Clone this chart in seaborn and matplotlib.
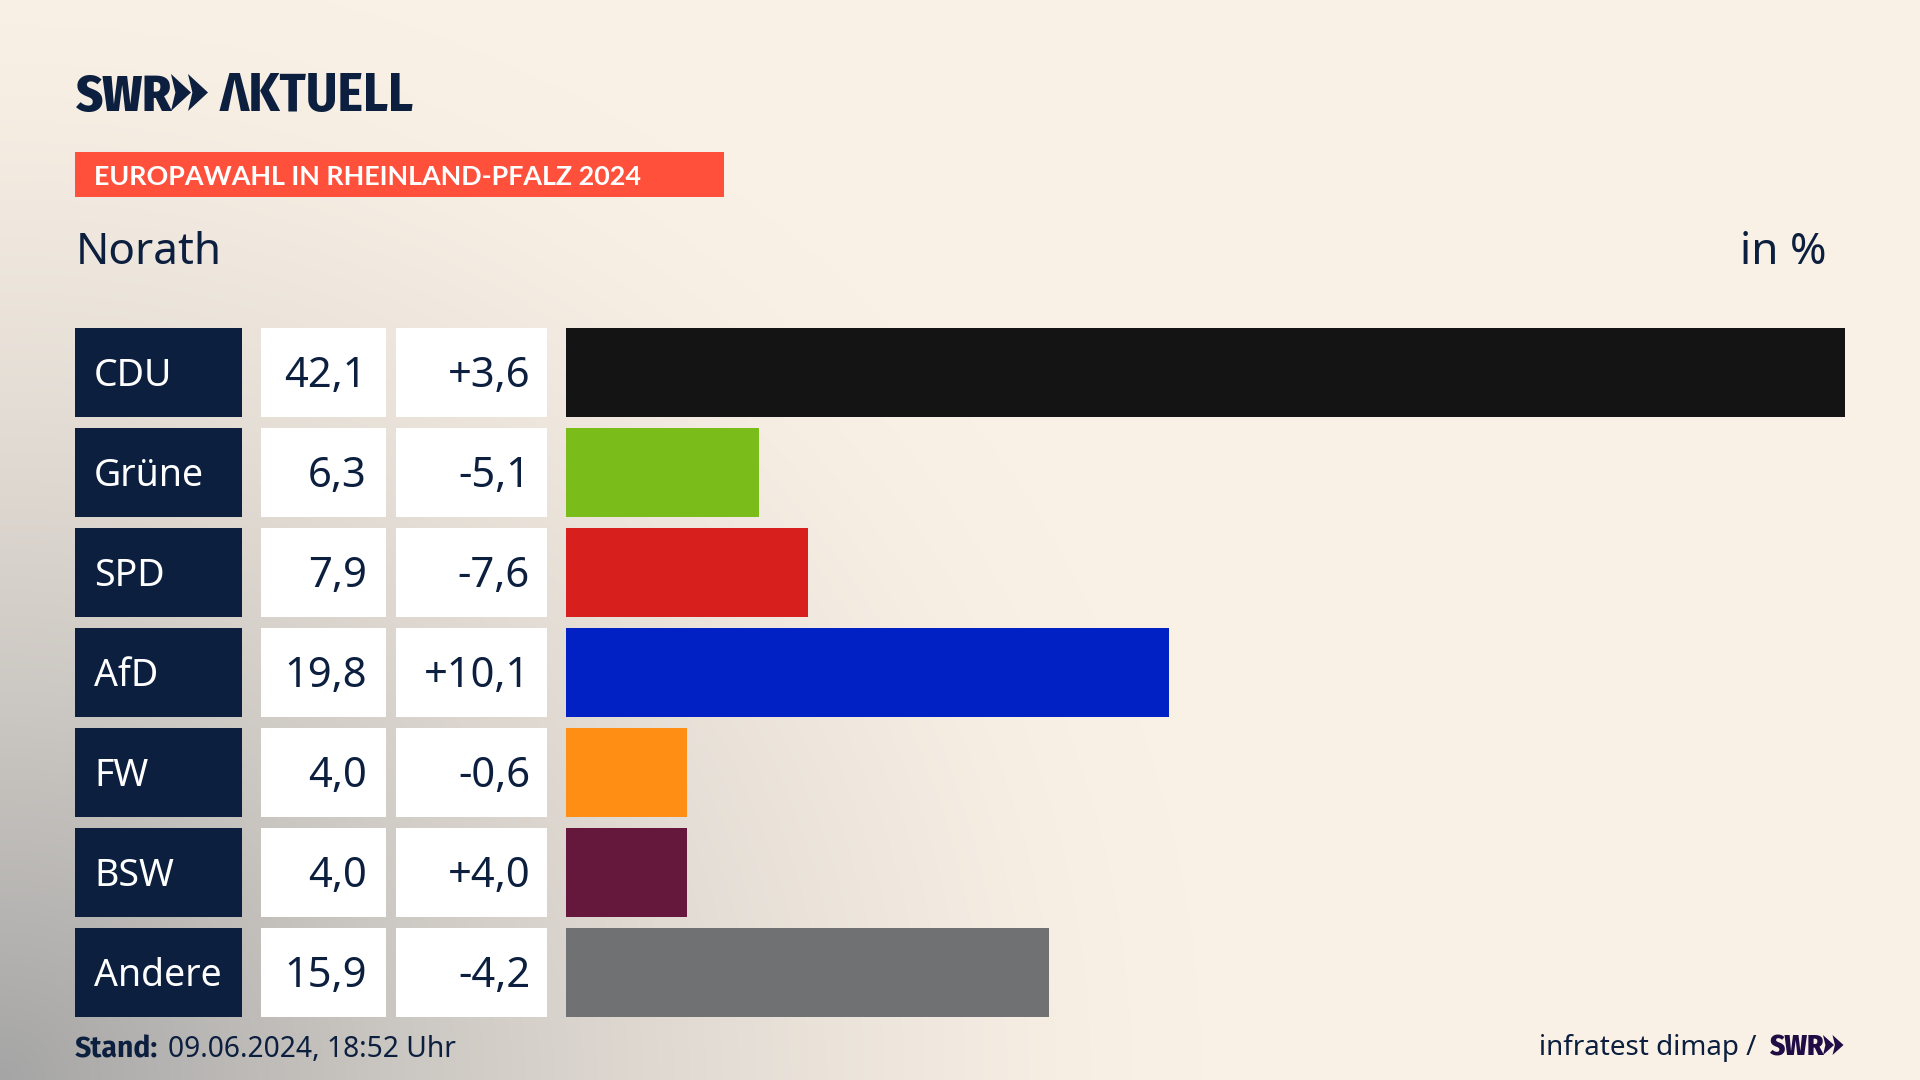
import logging
import numpy as np
import pandas as pd
import seaborn as sns
import matplotlib
matplotlib.use("Agg")
import matplotlib.pyplot as plt
from matplotlib.patches import Rectangle, Polygon

logging.getLogger("matplotlib.font_manager").setLevel(logging.ERROR)

parties = ["CDU", "Grüne", "SPD", "AfD", "FW", "BSW", "Andere"]
share_labels = ["42,1", "6,3", "7,9", "19,8", "4,0", "4,0", "15,9"]
change_labels = ["+3,6", "-5,1", "-7,6", "+10,1", "-0,6", "+4,0", "-4,2"]
bar_values = [42.1, 6.36, 7.97, 19.85, 3.98, 3.98, 15.9]
colors = ["#141414", "#7ABD1B", "#D7201D", "#0221C4", "#FF8E15", "#66183C", "#707172"]

NAVY = "#0C1F3F"
BODY = ["Noto Sans", "DejaVu Sans"]
COND = ["Fira Sans Condensed", "Asap Condensed", "Lato", "DejaVu Sans"]
BOLD = ["Fira Sans", "Lato", "DejaVu Sans"]
W, H = 1920, 1080
fig = plt.figure(figsize=(19.2, 10.8), dpi=100)

# background gradient
bg = fig.add_axes([0, 0, 1, 1], zorder=0)
yy, xx = np.mgrid[0:H:270j, 0:W:480j]
d = np.sqrt((xx / 1200) ** 2 + ((H - yy) / 1120) ** 2)
t = np.clip(1 - d, 0, 1) ** 1.45
base = np.array([250, 241, 230]) / 255
dark = np.array([165, 165, 165]) / 255
img = base[None, None, :] * (1 - t[..., None]) + dark[None, None, :] * t[..., None]
bg.imshow(img, extent=[0, W, H, 0], aspect="auto", interpolation="bilinear")
bg.set_xlim(0, W); bg.set_ylim(H, 0); bg.axis("off")

# overlay in pixel coordinates
ov = fig.add_axes([0, 0, 1, 1], zorder=2)
ov.set_xlim(0, W); ov.set_ylim(H, 0); ov.axis("off"); ov.patch.set_alpha(0)

def txt(x, y, s, size, color=NAVY, weight="normal", ha="left", family=BODY):
    return ov.text(x, y, s, fontsize=size, color=color, fontweight=weight, ha=ha, va="baseline", family=family)

# bars
TOP, PITCH, BH = 328, 100, 89
LEFT, RIGHT = 566, 1845
ax = fig.add_axes([LEFT / W, 1 - (TOP + 7 * PITCH - (PITCH - BH) / 2) / H,
                   (RIGHT - LEFT) / W, 7 * PITCH / H], zorder=1)
df = pd.DataFrame({"party": parties, "share": bar_values})
sns.barplot(data=df, x="share", y="party", hue="party", palette=colors, legend=False,
            width=BH / PITCH, saturation=1, ax=ax, orient="h", edgecolor="none", linewidth=0)
ax.set_xlim(0, max(bar_values))
ax.set_ylim(6.5, -0.5)
ax.axis("off")
ax.patch.set_alpha(0)

# table cells
for i, (p, s, c) in enumerate(zip(parties, share_labels, change_labels)):
    y0 = TOP + i * PITCH
    ov.add_patch(Rectangle((75, y0), 167, BH, fc=NAVY, ec="none"))
    ov.add_patch(Rectangle((261, y0), 125, BH, fc="white", ec="none"))
    ov.add_patch(Rectangle((396, y0), 151, BH, fc="white", ec="none"))
    txt(94, y0 + 58, p, 27, color="white")
    txt(367, y0 + 59, s, 30, ha="right")
    txt(530, y0 + 59, c, 30, ha="right")

# header
def chevrons(x0, y0, h, w, gap, color):
    for k in range(2):
        x = x0 + k * gap
        ov.add_patch(Polygon([(x, y0), (x + w, y0 + h / 2), (x, y0 + h), (x + w * 0.22, y0 + h / 2)],
                             closed=True, fc=color, ec="none"))

txt(76, 111, "SWR", 37, weight="heavy", family=COND)
chevrons(171, 74, 37, 20, 17, NAVY)
txt(220, 111, "ΛKTUELL", 38.8, weight="bold", family=COND)

ov.add_patch(Rectangle((75, 152), 649, 45, fc="#FF503C", ec="none"))
txt(94, 185, "EUROPAWAHL IN RHEINLAND-PFALZ 2024", 19.4, color="white", weight="bold",
    family=["Lato", "DejaVu Sans"])
txt(76, 264, "Norath", 31.7)
txt(1826, 264, "in %", 31.7, ha="right")

# footer
txt(75, 1057, "Stand:", 20.5, weight="bold", family=BOLD)
txt(168, 1057, "09.06.2024, 18:52 Uhr", 20.3)
txt(1539, 1055, "infratest dimap /", 20)
txt(1769, 1055, "SWR", 21, color="#1F0D45", weight="heavy", family=COND)
chevrons(1823, 1035, 20, 11, 9.5, "#1F0D45")

fig.savefig("out.png", dpi=100)
